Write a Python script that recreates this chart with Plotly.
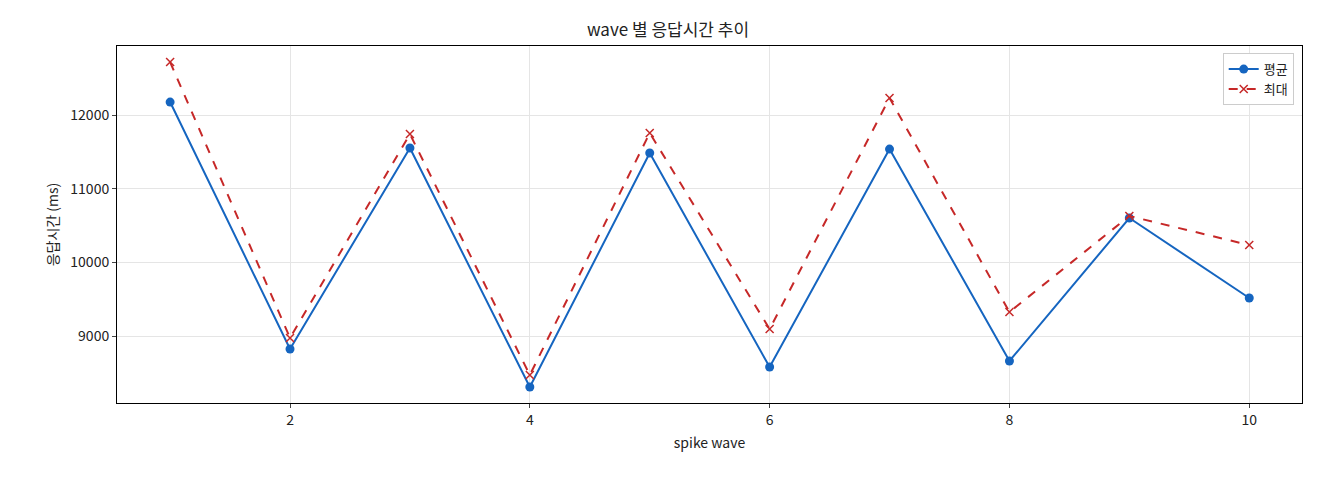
import plotly.graph_objects as go

waves = [1, 2, 3, 4, 5, 6, 7, 8, 9, 10]
avg_ms = [12176, 8824, 11552, 8308, 11484, 8579, 11538, 8661, 10602, 9516]
max_ms = [12719, 8973, 11742, 8471, 11756, 9095, 12231, 9326, 10629, 10235]

font = "Noto Sans CJK KR, Noto Sans, sans-serif"
fig = go.Figure()
fig.add_trace(go.Scatter(x=waves, y=avg_ms, name="평균", mode="lines+markers",
                         line=dict(color="#1565c0", width=2), marker=dict(size=9, color="#1565c0")))
fig.add_trace(go.Scatter(x=waves, y=max_ms, name="최대", mode="lines+markers",
                         line=dict(color="#c62828", width=2, dash="dash"),
                         marker=dict(symbol="x-thin", size=8, line=dict(width=1.5, color="#c62828"), color="#c62828")))
axis = dict(showline=True, mirror=True, linecolor="black", linewidth=1, ticks="outside",
            ticklen=4, gridcolor="#e5e5e5", zeroline=False, tickfont=dict(size=14, color="#222"),
            automargin=False)
fig.update_layout(
    width=1320, height=480, plot_bgcolor="white", paper_bgcolor="white",
    font=dict(family=font, color="#222"),
    margin=dict(l=109, r=26, t=38, b=85),
    title=dict(text="wave 별 응답시간 추이", x=0.5, xanchor="center", y=0.955, yanchor="middle", font=dict(size=17)),
    xaxis=dict(axis, range=[0.557, 10.44], tickvals=[2, 4, 6, 8, 10],
               title=dict(text="spike wave", font=dict(size=14), standoff=10)),
    yaxis=dict(axis, range=[8091, 12937], tickvals=[9000, 10000, 11000, 12000], tickformat="d",
               title=dict(text="응답시간 (ms)", font=dict(size=14), standoff=8)),
    legend=dict(x=0.993, y=0.98, xanchor="right", yanchor="top", bordercolor="#ccc",
                borderwidth=1, bgcolor="white", font=dict(size=13)),
)
fig.write_html("out.html")
